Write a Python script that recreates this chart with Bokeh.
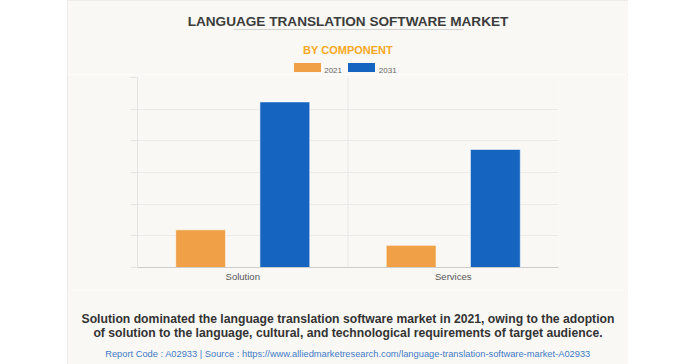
from bokeh.plotting import figure
from bokeh.models import ColumnDataSource, FactorRange, Range1d, Span, FixedTicker, Spacer
from bokeh.core.properties import value
from bokeh.transform import dodge
from bokeh.layouts import row, column
from bokeh.embed import file_html
from bokeh.resources import INLINE

categories = ["Solution", "Services"]
years = ["2021", "2031"]
values_2021 = [1.19, 0.70]
values_2031 = [5.23, 3.73]
y_ticks = [0, 1, 2, 3, 4, 5, 6]

title_text = "LANGUAGE TRANSLATION SOFTWARE MARKET"
subtitle_text = "BY COMPONENT"
caption_lines = [
    "Solution dominated the language translation software market in 2021, owing to the adoption",
    "of solution to the language, cultural, and technological requirements of target audience.",
]
source_text = "Report Code : A02933 | Source : https://www.alliedmarketresearch.com/language-translation-software-market-A02933"

BG = "#f9f8f5"
ORANGE = "#f0a148"
BLUE = "#1565c0"
FONT = "Liberation Sans"
W = 561
CX = 280.5


def blank(height, y0, y1):
    f = figure(width=W, height=height, x_range=Range1d(0, W), y_range=Range1d(y0, y1),
               output_backend="svg", toolbar_location=None,
               x_axis_location=None, y_axis_location=None,
               min_border=0, min_border_left=0, min_border_right=0,
               min_border_top=0, min_border_bottom=0)
    f.frame_align = False
    f.title = None
    f.grid.visible = False
    f.outline_line_color = None
    f.background_fill_color = BG
    f.border_fill_color = BG
    return f


# ---- header (x data == page x - 67, y data == page y) ----
head = blank(74, 74, 0)
head.text(x=[CX], y=[20.7], text=[title_text], text_font=value(FONT), text_font_size=value("13.6px"),
          text_font_style="bold", text_color="#3c3c3c", text_align="center", text_baseline="alphabetic")
head.segment(x0=[166], y0=[29], x1=[396], y1=[29], line_color="#d2d2d2", line_width=1)
head.text(x=[CX], y=[49.3], text=[subtitle_text], text_font=value(FONT), text_font_size=value("11px"),
          text_font_style="bold", text_color="#f7a823", text_align="center", text_baseline="alphabetic")
head.rect(x=[240, 294], y=[67, 67], width=27, height=9, fill_color=[ORANGE, BLUE], line_color=None)
head.text(x=[256.7, 311.3], y=[69.6, 69.6], text=years, text_font=value(FONT), text_font_size=value("8px"),
          text_color="#666666", text_align="left", text_baseline="alphabetic")

# ---- chart ----
src = ColumnDataSource(dict(cat=categories, v2021=values_2021, v2031=values_2031))
p = figure(width=W, height=216, x_range=FactorRange(*categories, range_padding=0),
           y_range=Range1d(0, 6), output_backend="svg", toolbar_location=None,
           min_border_left=70, min_border_right=70, min_border_top=3, min_border_bottom=23)
p.frame_align = False
p.title = None
p.background_fill_color = BG
p.border_fill_color = BG
p.outline_line_color = None

p.vbar(x=dodge("cat", -0.2, range=p.x_range), top="v2021", width=0.237, source=src,
       fill_color=ORANGE, line_color="#ffffff", line_alpha=0.6, line_width=1)
p.vbar(x=dodge("cat", 0.2, range=p.x_range), top="v2031", width=0.237, source=src,
       fill_color=BLUE, line_color="#ffffff", line_alpha=0.6, line_width=1)

p.yaxis.ticker = FixedTicker(ticks=y_ticks)
p.yaxis.major_label_text_font_size = "0px"
p.yaxis.major_label_text_color = None
p.yaxis.major_tick_out = 7
p.yaxis.major_tick_in = 0
p.yaxis.minor_tick_line_color = None
p.yaxis.axis_line_color = "#e4e4e4"
p.yaxis.major_tick_line_color = "#e4e4e4"

p.xaxis.major_tick_line_color = None
p.xaxis.major_tick_out = 0
p.xaxis.major_tick_in = 0
p.xaxis.axis_line_color = "#cccccc"
p.xaxis.major_label_text_font = FONT
p.xaxis.major_label_text_font_size = "9.5px"
p.xaxis.major_label_text_color = "#555555"
p.xaxis.major_label_standoff = 3

p.xgrid.grid_line_color = None
p.ygrid.grid_line_color = "#ebebeb"
p.ygrid.ticker = FixedTicker(ticks=y_ticks)
p.add_layout(Span(location=1.0, dimension="height", line_color="#e6e6e6", line_width=1))

# ---- footer (y data == page y) ----
foot = blank(74, 364, 290)
foot.text(x=[CX, CX], y=[318.5, 332.5], text=caption_lines, text_font=value(FONT),
          text_font_size=value("12.2px"), text_font_style="bold", text_color="#333333",
          text_align="center", text_baseline="alphabetic")
foot.text(x=[CX], y=[353.5], text=[source_text], text_font=value(FONT), text_font_size=value("9.3px"),
          text_color="#3f7ac6", text_align="center", text_baseline="alphabetic")

col = column(head, p, foot, spacing=0)
col.styles = {"outline": "1px solid #e2e2e2", "outline-offset": "-1px"}
layout = row(Spacer(width=67, height=364), col, spacing=0)
open("out.html", "w").write(file_html(layout, INLINE))
